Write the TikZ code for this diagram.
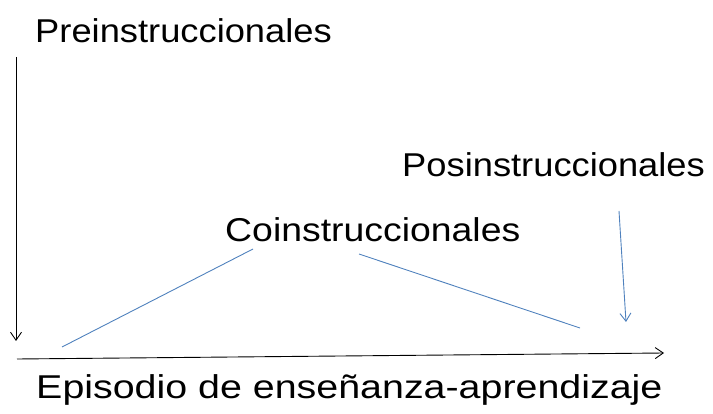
\documentclass[tikz,border=0pt]{standalone}
\usepackage{fontspec}
\setmainfont{Liberation Sans}
\usetikzlibrary{arrows.meta}

\begin{document}
\begin{tikzpicture}[x=1pt,y=-1pt,
    label/.style={anchor=base west,inner sep=0pt,xscale=1.1,font=\fontsize{33}{36}\selectfont},
    bluearrow/.style={color={rgb,255:red,79;green,129;blue,189},line width=0.9pt},
    >={Straight Barb[length=8pt,width=11pt]}]
    \useasboundingbox (0,0) rectangle (713,414);
    \node[label] (pre) at (35,43) {Preinstruccionales};
    \node[label] (pos) at (402,177) {Posinstruccionales};
    \node[label,xscale=1.03] (co) at (225,242) {Coinstruccionales};
    \node[label,xscale=1.085] (epi) at (36,399) {Episodio de enseñanza-aprendizaje};
    \coordinate (A) at (16,57);
    \coordinate (B) at (16,341);
    \coordinate (C) at (17,359);
    \coordinate (D) at (664,353);
    \coordinate (E) at (62,347);
    \coordinate (F) at (253,249);
    \coordinate (G) at (359,254);
    \coordinate (H) at (580,328);
    \coordinate (I) at (619,211);
    \coordinate (J) at (626,322);
    \draw[->,line width=0.9pt] (A) -- (B);
    \draw[->,line width=0.9pt] (C) -- (D);
    \draw[bluearrow] (E) -- (F);
    \draw[bluearrow] (G) -- (H);
    \draw[bluearrow,->] (I) -- (J);
\end{tikzpicture}
\end{document}
